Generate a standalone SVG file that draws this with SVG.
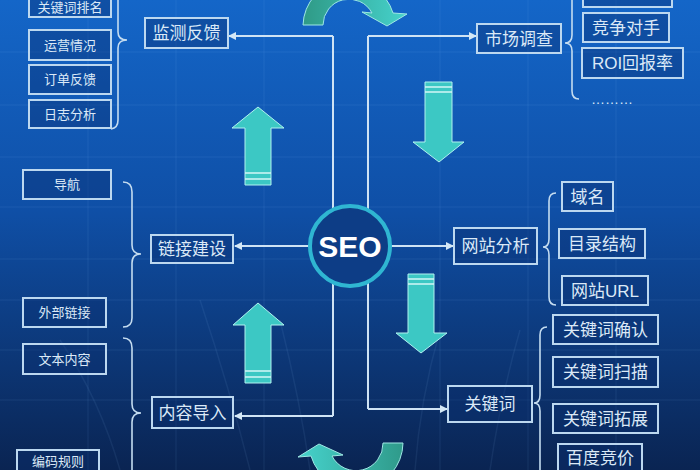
<svg xmlns="http://www.w3.org/2000/svg" width="700" height="470" viewBox="0 0 700 470">
<defs>
<linearGradient id="bg" x1="0" y1="0" x2="0" y2="1">
<stop offset="0" stop-color="#1466c8"/>
<stop offset="0.45" stop-color="#0f4fa6"/>
<stop offset="1" stop-color="#0a2452"/>
</linearGradient>
<linearGradient id="arcTop" x1="0" y1="0" x2="1" y2="0">
<stop offset="0" stop-color="#2f9a86"/>
<stop offset="1" stop-color="#46d2cc"/>
</linearGradient>
<linearGradient id="arcBot" x1="0" y1="0" x2="1" y2="0">
<stop offset="0" stop-color="#46d2cc"/>
<stop offset="1" stop-color="#2f9a8a"/>
</linearGradient>
<marker id="ah" viewBox="0 0 8 8" refX="7" refY="4" markerWidth="4" markerHeight="4" orient="auto">
<path d="M0,0 L8,4 L0,8 Z" fill="#d4e8f6"/>
</marker>
<style>
.box{fill:#0a2f70;fill-opacity:0.4;stroke:#bcd8f0;stroke-width:2}
.t{fill:#dbe9f7;font-family:"Liberation Sans","Noto Sans CJK SC",sans-serif;text-anchor:middle}
.s{font-size:13px}
.m{font-size:17px}
.ln{fill:none;stroke:#cfe3f4;stroke-width:2}
.br{fill:none;stroke:#c4dcf0;stroke-width:1.6}
.cy{fill:#3cc8c4;stroke:#b0f2f0;stroke-width:1}
.st{stroke:#d2f6f6;stroke-width:1.4}
.grid{stroke:#8fc0ff;stroke-opacity:0.1;stroke-width:1}
</style>
</defs>
<rect width="700" height="470" fill="url(#bg)"/>
<g id="background-grid">
<path class="grid" d="M0,52H700M0,105H700M0,157H700M0,207H700M0,259H700M0,300H700M0,350H700M0,400H700"/>
<path class="grid" d="M88,0V470M176,0V470M264,0V470M440,0V470M528,0V470M616,0V470"/>
<path d="M200,300 Q230,390 250,470 M280,320 Q300,400 310,470 M440,330 Q420,400 415,470 M520,330 Q500,400 490,470 M60,340 Q100,400 120,470" fill="none" stroke="#9fd0ff" stroke-opacity="0.08" stroke-width="1.5"/>
</g>

<g id="connectors">
<path class="ln" d="M333,36 V416"/>
<path class="ln" d="M368,36 V409"/>
<path class="ln" d="M333,36 H229" marker-end="url(#ah)"/>
<path class="ln" d="M368,36 H476" marker-end="url(#ah)"/>
<path class="ln" d="M333,416 H235" marker-end="url(#ah)"/>
<path class="ln" d="M368,409 H447" marker-end="url(#ah)"/>
<path class="ln" d="M310,246 H235" marker-end="url(#ah)"/>
<path class="ln" d="M390,246 H453" marker-end="url(#ah)"/>
<path class="br" d="M112,-20 Q118,-20 118,-12 V32 Q118,40 127,40 Q118,40 118,48 V120 Q118,128 111,129"/>
<path class="br" d="M123,182 Q132,182 132,192 V245 Q132,254 141,254 Q132,254 132,263 V318 Q132,327 123,327"/>
<path class="br" d="M123,338 Q132,338 132,348 V404 Q132,413 141,413 Q132,413 132,422 V480"/>
<path class="br" d="M578,-20 Q572,-20 572,-12 V35 Q572,43 565,43 Q572,43 572,51 V91 Q572,99 579,99"/>
<path class="br" d="M556,193 Q549,193 549,201 V239 Q549,247 543,247 Q549,247 549,255 V297 Q549,305 556,305"/>
<path class="br" d="M547,327 Q540,327 540,335 V395 Q540,403 534,403 Q540,403 540,411 V480"/>
</g>

<g id="flow-arrows">
<path d="M303,25 A46,46 0 0 1 393,13 L407,14 L387,26 L362,12 L372,13 A26,26 0 0 0 323,25 Z" fill="url(#arcTop)" stroke="#9ee8e4" stroke-width="1"/>
<path d="M403,443 A47,47 0 0 1 311,456 L298,457 L319,444 L343,455 L332,456 A27,27 0 0 0 383,443 Z" fill="url(#arcBot)" stroke="#9ee8e4" stroke-width="1"/>
<path class="cy" d="M258,107 L284,128 L271,128 L271,185 L245,185 L245,128 L232,128 Z"/>
<path class="st" d="M245,173H271M245,179H271"/>
<path class="cy" d="M258,303 L284,325 L271,325 L271,383 L245,383 L245,325 L233,325 Z"/>
<path class="st" d="M245,371H271M245,377H271"/>
<path class="cy" d="M425,82 L452,82 L452,142 L464,142 L439,162 L413,142 L425,142 Z"/>
<path class="st" d="M425,87H452M425,92H452"/>
<path class="cy" d="M408,274 L434,274 L434,333 L447,333 L421,353 L396,333 L408,333 Z"/>
<path class="st" d="M408,279H434M408,284H434"/>
</g>

<g id="seo">
<circle cx="350" cy="246" r="40" fill="#0d3d86" stroke="#2fb6d2" stroke-width="4"/>
<text x="350" y="257" fill="#ffffff" font-family="'Liberation Sans',sans-serif" font-weight="bold" font-size="30" text-anchor="middle">SEO</text>
</g>

<g id="n-keyword-rank"><rect class="box" x="29" y="-12" width="82" height="29"/><text class="t s" x="70" y="12">关键词排名</text></g>
<g id="n-operation"><rect class="box" x="29" y="30" width="82" height="30"/><text class="t s" x="70" y="50">运营情况</text></g>
<g id="n-order"><rect class="box" x="29" y="65" width="82" height="29"/><text class="t s" x="70" y="84">订单反馈</text></g>
<g id="n-log"><rect class="box" x="29" y="100" width="82" height="28"/><text class="t s" x="70" y="118.5">日志分析</text></g>
<g id="n-monitor"><rect class="box" x="145" y="18" width="83" height="30"/><text class="t m" x="186.5" y="39">监测反馈</text></g>

<g id="n-market"><rect class="box" x="477" y="24" width="84" height="29"/><text class="t m" x="519" y="44.5">市场调查</text></g>
<g id="n-top-right"><rect class="box" x="583" y="-25" width="89" height="32"/></g>
<g id="n-competitor"><rect class="box" x="583" y="13" width="86" height="29"/><text class="t m" x="626" y="33.5">竞争对手</text></g>
<g id="n-roi"><rect class="box" x="582" y="48" width="101" height="30"/><text class="t m" x="632.5" y="69">ROI回报率</text></g>
<g id="n-more"><text class="t" font-size="14" x="612" y="104">………</text></g>

<g id="n-nav"><rect class="box" x="23" y="170" width="88" height="29"/><text class="t s" x="67" y="189">导航</text></g>
<g id="n-link"><rect class="box" x="151" y="235" width="82" height="28"/><text class="t m" x="192" y="255">链接建设</text></g>
<g id="n-external"><rect class="box" x="23" y="298" width="83" height="29"/><text class="t s" x="64.5" y="317">外部链接</text></g>
<g id="n-text"><rect class="box" x="23" y="344" width="83" height="30"/><text class="t s" x="64.5" y="363.5">文本内容</text></g>
<g id="n-content"><rect class="box" x="152" y="397" width="81" height="31"/><text class="t m" x="192.5" y="418.5">内容导入</text></g>
<g id="n-encoding"><rect class="box" x="17" y="450" width="82" height="30"/><text class="t s" x="58" y="466">编码规则</text></g>

<g id="n-site"><rect class="box" x="454" y="228" width="83" height="36"/><text class="t m" x="495.5" y="252">网站分析</text></g>
<g id="n-domain"><rect class="box" x="562" y="182" width="51" height="29"/><text class="t m" x="587.5" y="202.5">域名</text></g>
<g id="n-dir"><rect class="box" x="559" y="229" width="86" height="29"/><text class="t m" x="602" y="249.5">目录结构</text></g>
<g id="n-url"><rect class="box" x="562" y="276" width="86" height="29"/><text class="t m" x="605" y="296.5">网站URL</text></g>

<g id="n-keyword"><rect class="box" x="448" y="386" width="84" height="36"/><text class="t m" x="490" y="410">关键词</text></g>
<g id="n-kw-confirm"><rect class="box" x="553" y="315" width="105" height="29"/><text class="t m" x="605.5" y="335.5">关键词确认</text></g>
<g id="n-kw-scan"><rect class="box" x="553" y="357" width="105" height="30"/><text class="t m" x="605.5" y="378">关键词扫描</text></g>
<g id="n-kw-expand"><rect class="box" x="553" y="404" width="105" height="29"/><text class="t m" x="605.5" y="424.5">关键词拓展</text></g>
<g id="n-baidu"><rect class="box" x="558" y="444" width="84" height="32"/><text class="t m" x="600" y="464">百度竞价</text></g>
</svg>
